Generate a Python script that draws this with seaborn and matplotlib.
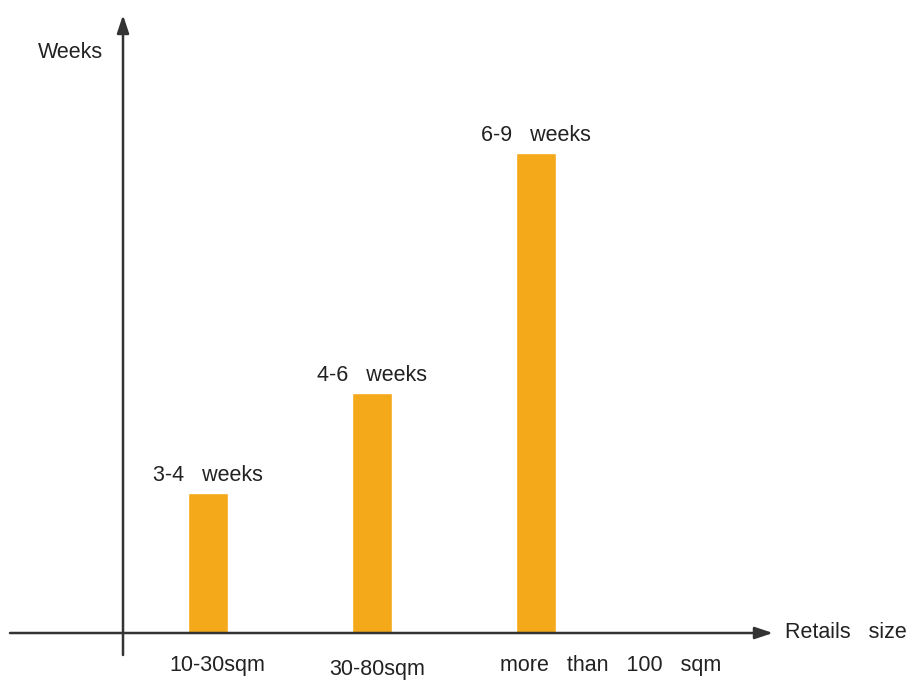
import matplotlib
matplotlib.use("Agg")
import matplotlib.pyplot as plt
import matplotlib.transforms as mtransforms
import seaborn as sns

# data
sizes = ["10-30sqm", "30-80sqm", "more   than   100   sqm"]
weeks = [3.5, 6.0, 12.0]          # bar heights (relative)
bar_labels = ["3-4   weeks", "4-6   weeks", "6-9   weeks"]

sns.set_theme(style="white")
plt.rcParams["font.family"] = ["Liberation Sans", "DejaVu Sans"]

fig = plt.figure(figsize=(9.15, 6.83), dpi=100, facecolor="white")
ax = fig.add_axes([0, 0, 1, 1])

sns.barplot(x=sizes, y=weeks, color="#F4A91A", saturation=1, width=0.244, ax=ax)

# map axes to the picture: 164 px per category, 40 px per unit
ax.set_xlim(-1.268, 4.311)
ax.set_ylim(-1.25, 15.825)
for s in ax.spines.values():
    s.set_visible(False)
ax.spines["bottom"].set_position(("data", 0))
ax.set_yticks([])
ax.tick_params(axis="x", length=0, pad=16, labelsize=15.5, labelcolor="#222222")
ax.set_xticks(range(len(sizes)), sizes)

# tick labels sit a little right of the bars in the original
shifts = [(9, 0), (5, -4), (75, 0)]
for lab, (dx, dy) in zip(ax.get_xticklabels(), shifts):
    lab.set_transform(lab.get_transform() +
                      mtransforms.ScaledTranslation(dx / 100, dy / 100, fig.dpi_scale_trans))

ax.bar_label(ax.containers[0], labels=bar_labels, padding=5, fontsize=15.5, color="#222222")

# axes with arrows
arrow = dict(arrowstyle="-|>,head_length=0.9,head_width=0.3", color="#333333", lw=1.8,
             shrinkA=0, shrinkB=0)
ax.annotate("", xy=(3.445, 0), xytext=(-1.207, 0), arrowprops=arrow)
ax.annotate("", xy=(-0.518, 15.45), xytext=(-0.518, -0.55), arrowprops=arrow)

ax.text(-0.841, 14.525, "Weeks", fontsize=15.5, color="#222222", ha="center", va="center")
ax.text(3.518, 0, "Retails   size", fontsize=15.5, color="#222222", ha="left", va="center")

fig.savefig("out.png", dpi=100, facecolor="white")
